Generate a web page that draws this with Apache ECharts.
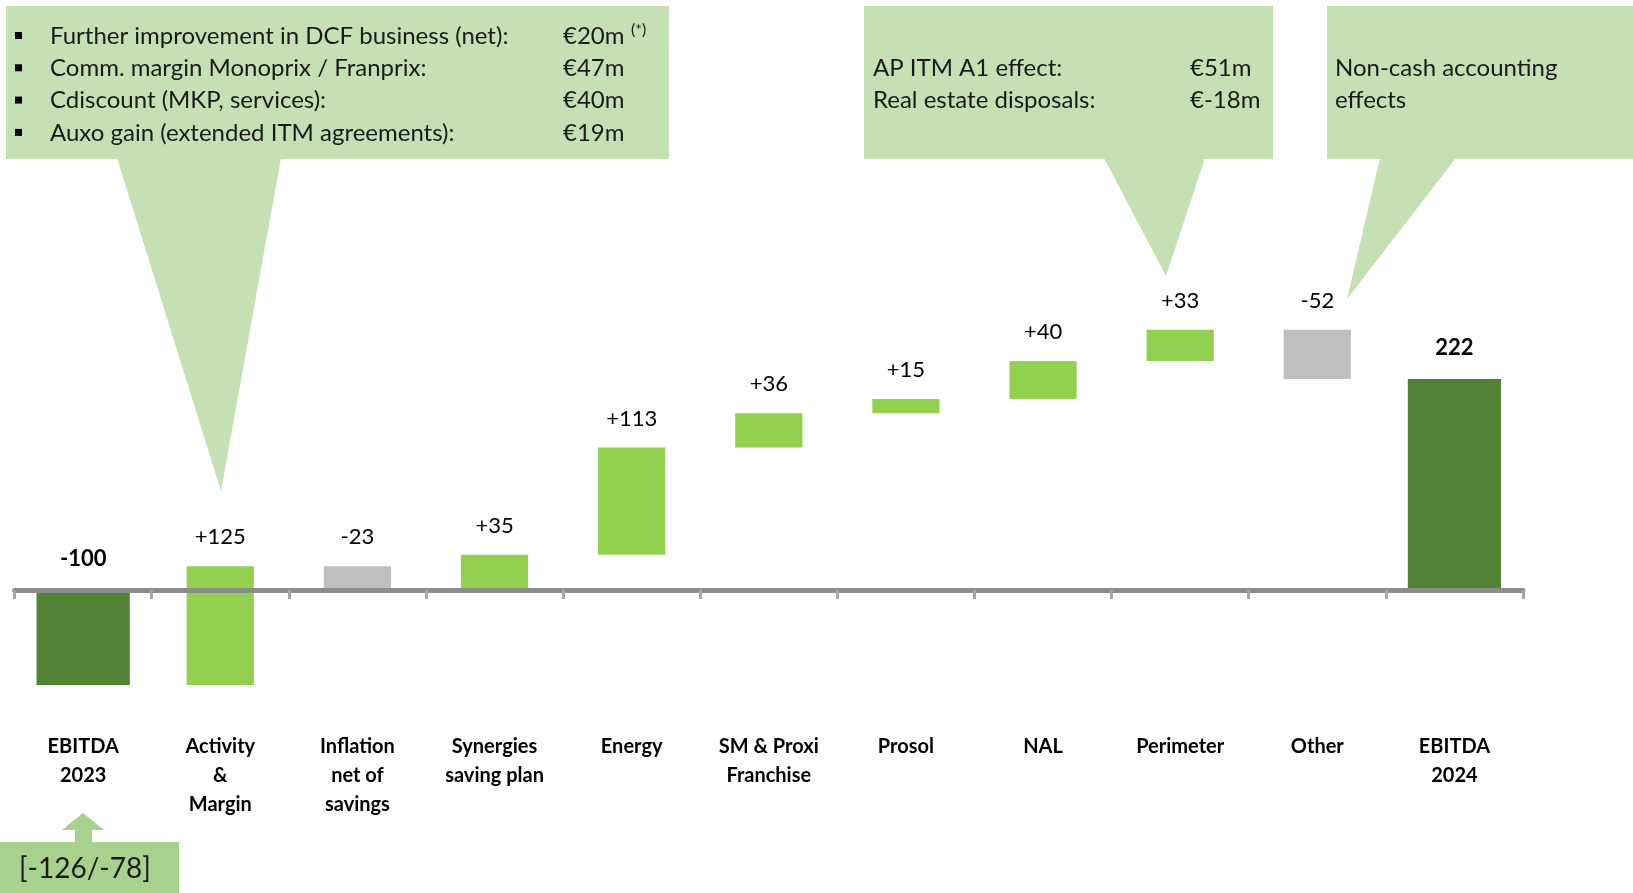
<!DOCTYPE html>
<html lang="en">
<head>
    <meta charset="utf-8">
    <title>EBITDA bridge 2023 - 2024</title>
    <script src="https://cdn.jsdelivr.net/npm/echarts@6/dist/echarts.min.js"></script>
    <style>
        html, body { margin: 0; padding: 0; background: #fff; }
    </style>
</head>
<body>
<div id="main" style="width: 1633px;height: 893px"></div>

<script type="text/javascript">
    var categories = ['EBITDA\n2023', 'Activity\n&\nMargin', 'Inflation\nnet of\nsavings', 'Synergies\nsaving plan',
        'Energy', 'SM & Proxi\nFranchise', 'Prosol', 'NAL', 'Perimeter', 'Other', 'EBITDA\n2024'];
    var ebitda2023 = -100;
    var changes = [125, -23, 35, 113, 36, 15, 40, 33, -52];
    var ebitda2024 = 222;

    var font = 'Lato, "Open Sans", sans-serif';
    var colors = { total: '#538135', up: '#92D050', down: '#BFBFBF' };

    // build floating bars [index, low, high]
    var rows = [], labels = [], kinds = [];
    rows.push([0, Math.min(0, ebitda2023), Math.max(0, ebitda2023)]);
    labels.push(String(ebitda2023));
    kinds.push('total');
    var run = ebitda2023;
    changes.forEach(function (c, k) {
        var next = run + c;
        rows.push([k + 1, Math.min(run, next), Math.max(run, next)]);
        labels.push(c > 0 ? '+' + c : String(c));
        kinds.push(c > 0 ? 'up' : 'down');
        run = next;
    });
    rows.push([categories.length - 1, 0, ebitda2024]);
    labels.push(String(ebitda2024));
    kinds.push('total');

    var myChart = echarts.init(document.getElementById('main'));

    // green callout shapes (box + pointer)
    function callout(box, tri) {
        return [
            { type: 'rect', shape: { x: box[0], y: box[1], width: box[2], height: box[3] }, style: { fill: '#C5E0B4' }, z: 1 },
            { type: 'polygon', shape: { points: tri }, style: { fill: '#C5E0B4' }, z: 1 }
        ];
    }
    function txt(x, y, s, opt) {
        opt = opt || {};
        return {
            type: 'text', x: x, y: y, z: 10,
            style: {
                text: s, fill: '#1a1a1a', font: (opt.weight || 'normal') + ' ' + (opt.size || 24) + 'px ' + font,
                verticalAlign: 'middle', align: opt.align || 'left'
            }
        };
    }

    var bulletText = ['Further improvement in DCF business (net):', 'Comm. margin Monoprix / Franprix:',
        'Cdiscount (MKP, services):', 'Auxo gain (extended ITM agreements):'];
    var bulletVals = ['€20m', '€47m', '€40m', '€19m'];

    var graphics = [];
    graphics = graphics.concat(callout([6, 6, 663, 153], [[117, 158], [281, 158], [221, 491]]));
    graphics = graphics.concat(callout([864, 6, 409, 153], [[1104, 158], [1205, 158], [1166, 276]]));
    graphics = graphics.concat(callout([1327, 6, 306, 153], [[1380, 158], [1456, 158], [1347, 299]]));
    bulletText.forEach(function (t, k) {
        var y = 36 + k * 32.3;
        graphics.push({ type: 'rect', shape: { x: 15, y: y - 4, width: 7, height: 7 }, style: { fill: '#000' }, z: 10 });
        graphics.push(txt(50, y, t));
        graphics.push(txt(563, y, bulletVals[k]));
    });
    graphics.push(txt(631, 30, '(*)', { size: 16 }));
    graphics.push(txt(873, 68, 'AP ITM A1 effect:'));
    graphics.push(txt(873, 100, 'Real estate disposals:'));
    graphics.push(txt(1190, 68, '€51m'));
    graphics.push(txt(1190, 100, '€-18m'));
    graphics.push(txt(1335, 68, 'Non-cash accounting'));
    graphics.push(txt(1335, 100, 'effects'));
    // range box under EBITDA 2023
    graphics.push({ type: 'rect', shape: { x: 0, y: 842, width: 179, height: 51 }, style: { fill: '#A9D18E' }, z: 1 });
    graphics.push({
        type: 'polygon', z: 1, style: { fill: '#A9D18E' },
        shape: { points: [[75, 842], [75, 830], [62, 830], [83, 813], [104, 830], [92, 830], [92, 842]] }
    });
    graphics.push(txt(19, 869, '[-126/-78]', { size: 28 }));

    option = {
        animation: false,
        grid: { left: 14.6, right: 110, top: 257.5, height: 475, containLabel: false, outerBoundsMode: 'none' },
        xAxis: {
            type: 'category',
            data: categories,
            z: 5,
            axisLine: { show: true, onZero: true, lineStyle: { color: '#8C8C8C', width: 5 } },
            axisTick: { show: true, length: 9, lineStyle: { color: '#A6A6A6', width: 3 } },
            axisLabel: {
                interval: 0, margin: 0, color: '#000', fontFamily: font,
                fontWeight: 'bold', fontSize: 20, lineHeight: 29
            },
            splitLine: { show: false }
        },
        yAxis: { type: 'value', min: -150, max: 350, show: false },
        graphic: graphics,
        series: [{
            type: 'custom',
            clip: false,
            data: rows,
            encode: { x: 0, y: [1, 2] },
            renderItem: function (params, api) {
                var i = params.dataIndex;
                var lo = api.coord([api.value(0), api.value(1)]);
                var hi = api.coord([api.value(0), api.value(2)]);
                var total = kinds[i] === 'total';
                var w = api.size([1, 0])[0] * (total ? 0.68 : 0.49);
                return {
                    type: 'group',
                    children: [{
                        type: 'rect',
                        shape: { x: lo[0] - w / 2, y: hi[1], width: w, height: lo[1] - hi[1] },
                        style: { fill: colors[kinds[i]] }
                    }, {
                        type: 'text',
                        x: lo[0], y: hi[1] - (total ? 31 : 29),
                        style: {
                            text: labels[i], fill: '#000', align: 'center', verticalAlign: 'middle',
                            font: (total ? 'bold ' : 'normal ') + '22px ' + font
                        }
                    }]
                };
            }
        }]
    };
    myChart.setOption(option);
</script>
</body>
</html>
